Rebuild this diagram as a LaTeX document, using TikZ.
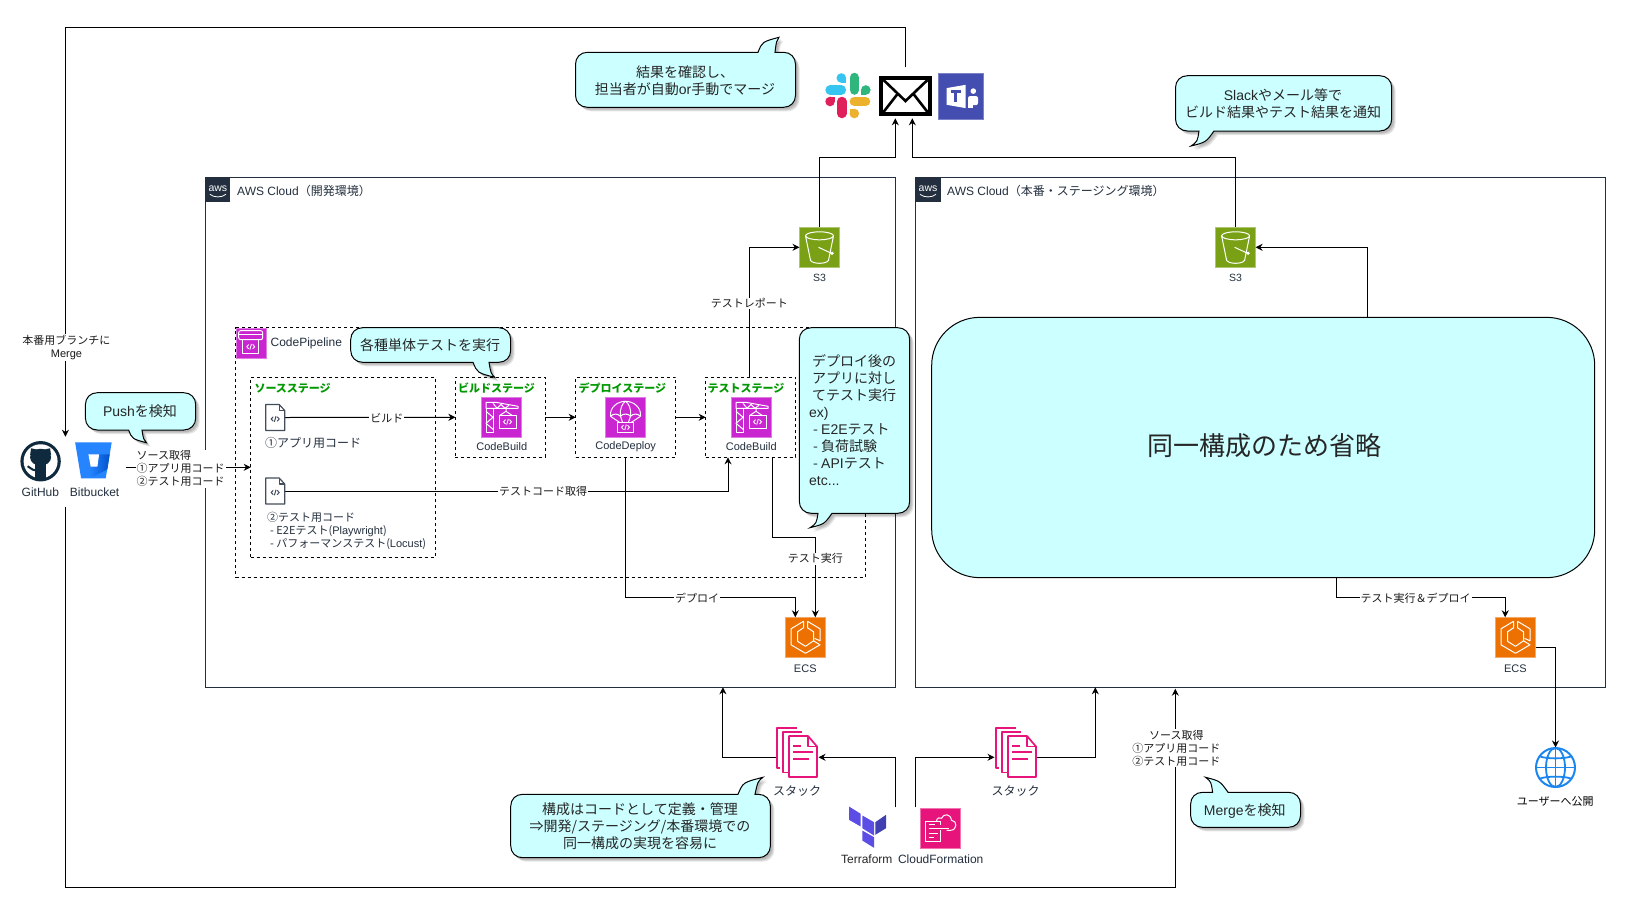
\documentclass[tikz,border=0pt]{standalone}
\usepackage{fontspec}
\setmainfont{Noto Sans CJK JP}
\newfontfamily\lat{Liberation Sans}
\usetikzlibrary{arrows.meta,calc}
\definecolor{callfill}{HTML}{CCFFFF}
\definecolor{awsink}{HTML}{232F3E}
\definecolor{purpleic}{HTML}{C925D1}
\definecolor{greenic}{HTML}{7AA116}
\definecolor{orangeic}{HTML}{ED7100}
\definecolor{pinkic}{HTML}{E7157B}
\definecolor{stagegreen}{HTML}{009900}
\definecolor{ghink}{HTML}{0E2A3C}
\definecolor{globeblue}{HTML}{1A86EE}
\newcommand{\abox}[6]{\node[#6,inner sep=0pt,outer sep=0pt,minimum width={(#4-#2)*1pt},minimum height={(#5-#3)*1pt}] (#1) at ({(#2+#4)/2},{(#3+#5)/2}) {};}
\newcommand{\codeg}[3]{\draw[#3] ({#1-2},{#2-2.2}) -- ({#1-4},{#2}) -- ({#1-2},{#2+2.2}) ({#1+2},{#2-2.2}) -- ({#1+4},{#2}) -- ({#1+2},{#2+2.2}) ({#1+.8},{#2-2.8}) -- ({#1-.8},{#2+2.8});}
% callout with tail on the bottom edge: x1 y1 x2 y2 a b tipx tipy
\newcommand{\callB}[8]{\path[callshape] ({#1+12},#2) -- ({#3-12},#2) .. controls ({#3-5},#2) and (#3,{#2+5}) .. (#3,{#2+12}) -- (#3,{#4-12}) .. controls (#3,{#4-5}) and ({#3-5},#4) .. ({#3-12},#4) -- (#6,#4) .. controls ({#6+(#7-#6)*.35},{#4+(#8-#4)*.75}) .. (#7,#8) .. controls ({#5+(#7-#5)*.2},{#4+(#8-#4)*.7}) .. (#5,#4) -- ({#1+12},#4) .. controls ({#1+5},#4) and (#1,{#4-5}) .. (#1,{#4-12}) -- (#1,{#2+12}) .. controls (#1,{#2+5}) and ({#1+5},#2) .. ({#1+12},#2) -- cycle;}
% callout with tail on the top edge
\newcommand{\callT}[8]{\path[callshape] ({#1+12},#2) -- (#5,#2) .. controls ({#5+(#7-#5)*.2},{#2+(#8-#2)*.7}) .. (#7,#8) .. controls ({#6+(#7-#6)*.35},{#2+(#8-#2)*.75}) .. (#6,#2) -- ({#3-12},#2) .. controls ({#3-5},#2) and (#3,{#2+5}) .. (#3,{#2+12}) -- (#3,{#4-12}) .. controls (#3,{#4-5}) and ({#3-5},#4) .. ({#3-12},#4) -- ({#1+12},#4) .. controls ({#1+5},#4) and (#1,{#4-5}) .. (#1,{#4-12}) -- (#1,{#2+12}) .. controls (#1,{#2+5}) and ({#1+5},#2) .. ({#1+12},#2) -- cycle;}
\definecolor{terralight}{HTML}{5C4EE5}
\definecolor{terradark}{HTML}{4040B2}
\definecolor{slackblue}{HTML}{36C5F0}
\definecolor{slackgreen}{HTML}{2EB67D}
\definecolor{slackyellow}{HTML}{ECB22E}
\definecolor{slackred}{HTML}{E01E5A}
\definecolor{teamsblue}{HTML}{444DB0}
\definecolor{bitblue}{HTML}{2684FF}
\definecolor{bitdark}{HTML}{0052CC}
\tikzset{
  conn/.style={draw=black,line width=1pt,-{Stealth[length=7pt,width=7pt]}},
  dbox/.style={draw=black,line width=1pt,dash pattern=on 3pt off 3pt},
  cloudbox/.style={draw=awsink,line width=1pt,fill=white},
  callshape/.style={draw=black,line width=1pt,fill=callfill,
    preaction={fill=black,opacity=.10,transform canvas={shift={(2pt,-2pt)}}},
    preaction={fill=black,opacity=.10,transform canvas={shift={(3pt,-3pt)}}},
    preaction={fill=black,opacity=.10,transform canvas={shift={(4pt,-4pt)}}}},
  calltext/.style={font=\fontsize{14}{17}\selectfont,align=center,inner sep=0pt,text=black!85},
  lbl/.style={font=\fontsize{11}{13}\selectfont,fill=white,inner sep=1pt,align=center,text=black!90},
  iclbl/.style={font=\lat\fontsize{10.5}{12}\selectfont,text=awsink,inner sep=0pt},
  stagelbl/.style={font=\fontsize{11}{13}\selectfont\bfseries,text=stagegreen,anchor=west,inner sep=0pt},
  srclbl/.style={font=\fontsize{11}{13}\selectfont,text=awsink,anchor=west,inner sep=0pt,align=left},
  iconline/.style={draw=white,line width=1pt,line join=round},
  icawslogo/.pic={
    \node[font=\lat\fontsize{10.5}{10}\selectfont,text=white,inner sep=0pt] (awstxt) at (0,-1.5) {aws};
    \draw[white,line width=.8pt] (-8,4.5) .. controls (-4,8) and (4,8) .. (8,4.5);
  },
  icbuild/.pic={
    \draw[iconline] (-15,-9) rectangle (-8,15);
    \draw[iconline] (-15,-6) -- (-8,0) -- (-15,6) -- (-8,12);
    \draw[iconline] (-15,-15) -- (-15,-9) -- (17,-9) -- (17,-11) -- (-5,-15) -- cycle;
    \draw[iconline] (-8,-14) -- (-4,-9) -- (0,-13) -- (4,-9) -- (8,-12);
    \draw[iconline] (5,-9) -- (5,-6) -- (-1,-2) (5,-6) -- (11,-2);
    \draw[iconline] (-2,-2) rectangle (15,11);
    \codeg{6.5}{4.5}{iconline,line width=.9pt}
  },
  icdeploy/.pic={
    \draw[iconline] (-15,-1) .. controls (-16,-10) and (-8,-16) .. (0,-16) .. controls (8,-16) and (16,-10) .. (15,-1);
    \draw[iconline] (-15,-1) .. controls (-12,-4) and (-8,-4) .. (-5,-1) .. controls (-3,-4) and (3,-4) .. (5,-1) .. controls (8,-4) and (12,-4) .. (15,-1);
    \draw[iconline] (-5,-1) .. controls (-6,-9) and (-3,-14) .. (0,-16) .. controls (3,-14) and (6,-9) .. (5,-1);
    \draw[iconline] (-15,-1) -- (-6,5) (-5,-1) -- (-3,5) (5,-1) -- (3,5) (15,-1) -- (6,5);
    \draw[iconline] (-8,5) rectangle (8,15);
    \codeg{0}{10}{iconline,line width=.9pt}
  },
  icpipe/.pic={
    \draw[iconline,rounded corners=2pt] (-12,-12) rectangle (12,-3);
    \draw[iconline] (-12,-8) -- (12,-8);
    \draw[iconline] (-8,-3) rectangle (8,11);
    \codeg{0}{4}{iconline,line width=.9pt}
  },
  ics3/.pic={
    \draw[iconline] (0,-11.5) ellipse [x radius=14pt,y radius=4pt];
    \draw[iconline] (-14,-11.5) -- (-9,13) .. controls (-7,17) and (7,17) .. (9,13) -- (14,-11.5);
    \draw[iconline] (-1,0) -- (12,6);
    \fill[white] (12.5,6) circle [radius=1.8pt];
  },
  icecs/.pic={
    \draw[iconline] (-2,-16) -- (-14.5,-8.5) -- (-14.5,7.5) -- (0,16) -- (14.5,7.5) -- (8,3.5);
    \draw[iconline] (2,-16) -- (14.5,-8.5) -- (14.5,3.5) -- (9,1);
    \draw[iconline] (-2,-16) -- (-2,-9.5) -- (-8,-5.5) -- (-8,4) -- (0,9) -- (8,3.5) -- (8,-5.5) -- (2,-9.5) -- (2,-16);
  },
  iccf/.pic={
    \draw[iconline] (-4,-7) .. controls (-4,-11) and (0,-11) .. (1,-10) .. controls (3,-15) and (10,-15) .. (11,-8) .. controls (17,-8) and (17,2) .. (10,2) -- (6,2);
    \draw[iconline] (0,2) -- (0,13) -- (-15,13) -- (-15,-7) -- (0,-7) -- (0,-3);
    \draw[iconline] (-12,-4) -- (-6,-4) (-12,0) -- (8,0) (-12,5) -- (-3,5) (-12,9) -- (-7,9);
  },
  icstack/.pic={
    \draw[draw=pinkic,line width=1.7pt,line join=round] (0,-24) -- (-20,-24) -- (-20,16) -- (-17,16);
    \draw[draw=pinkic,line width=1.7pt,line join=round] (5,-20) -- (-14,-20) -- (-14,20.5) -- (-9,20.5);
    \draw[draw=pinkic,line width=1.7pt,line join=round] (-8,-16) -- (11,-16) -- (20,-5.5) -- (20,25) -- (-8,25) -- cycle;
    \draw[draw=pinkic,line width=1.7pt,line join=round] (11,-16) -- (11,-5.5) -- (20,-5.5);
    \draw[draw=pinkic,line width=1.7pt] (-4,-6) -- (4,-6) (-4,0) -- (16,0) (-4,7) -- (12,7);
  },
  icfile/.pic={
    \draw[draw=awsink!85,fill=white,line width=1.2pt,line join=round] (-9.5,-13) -- (4,-13) -- (9.5,-7) -- (9.5,13) -- (-9.5,13) -- cycle;
    \draw[draw=awsink!85,line width=1.2pt,line join=round] (4,-13) -- (4,-7) -- (9.5,-7);
    \codeg{0}{1.5}{draw=awsink!85,line width=1pt}
  },
  icterra/.pic={
    \fill[terralight] (-18.5,-20) -- (-6.8,-12.7) -- (-6.8,0) -- (-18.5,-6.7) -- cycle;
    \fill[terralight] (-5.2,-11) -- (6.5,-4.3) -- (6.5,9) -- (-5.2,1.7) -- cycle;
    \fill[terradark] (7.8,-4.3) -- (18.5,-11.7) -- (18.5,1.7) -- (7.8,8.3) -- cycle;
    \fill[terralight] (-5.2,4) -- (6.5,10.7) -- (6.5,21.3) -- (-5.2,14) -- cycle;
  },
  icmail/.pic={
    \draw[black,line width=2.6pt,line join=miter] (-22,-16) -- (0,5) -- (22,-16);
    \draw[black,line width=2.6pt] (-22,16) -- (-8,-2) (22,16) -- (8,-2);
  },
  icslack/.pic={
    \draw[line width=9.5pt,line cap=round,slackblue] (-17.7,-5.5) -- (-6.5,-5.5);
    \fill[slackblue] (-6.5,-17.5) circle [radius=4.8pt];
    \fill[slackblue] (-6.5,-17.5) rectangle (-1.7,-12.7);
    \draw[line width=9.5pt,line cap=round,slackgreen] (6.5,-18) -- (6.5,-5.5);
    \fill[slackgreen] (18,-5.5) circle [radius=4.8pt];
    \fill[slackgreen] (13.2,-5.5) rectangle (18,-.7);
    \draw[line width=9.5pt,line cap=round,slackyellow] (6.5,6) -- (17.7,6);
    \fill[slackyellow] (6.5,18) circle [radius=4.8pt];
    \fill[slackyellow] (1.7,13.2) rectangle (6.5,18);
    \draw[line width=9.5pt,line cap=round,slackred] (-6,6) -- (-6,18);
    \fill[slackred] (-17.7,6) circle [radius=4.8pt];
    \fill[slackred] (-17.7,1.2) rectangle (-12.9,6);
  },
  icteams/.pic={
    \fill[white] (-14.3,-8) -- (4.7,-11.3) -- (4.7,12) -- (-14.3,8.7) -- cycle;
    \draw[teamsblue,line width=2.6pt] (-10.5,-4.5) -- (-.5,-4.5) (-5.5,-4.5) -- (-5.5,6);
    \fill[white] (12.3,-5) circle [radius=2.8pt];
    \fill[white,rounded corners=2pt] (7,0) rectangle (17,9);
    \fill[white] (7,3) rectangle (12,11.5);
  },
  icgithub/.pic={
    \fill[ghink] (0,0) circle [radius=20.2pt];
    \fill[white] (0,0) circle [radius=17pt];
    \begin{scope}
      \clip (0,0) circle [radius=18pt];
      \fill[ghink] (0,-4) ellipse [x radius=10.5pt,y radius=8.5pt];
      \fill[ghink] (-10.5,-6) -- (-9.5,-13) -- (-3,-11.5) -- cycle;
      \fill[ghink] (10.5,-6) -- (9.5,-13) -- (3,-11.5) -- cycle;
      \fill[ghink] (-5.5,2) rectangle (5.5,20);
      \draw[ghink,line width=2pt] (-5,9) .. controls (-9,9) and (-10,6) .. (-13,5);
    \end{scope}
  },
  icbit/.pic={
    \fill[bitblue] (-18.3,-18) -- (18.3,-18) -- (12.3,18) -- (-12.3,18) -- cycle;
    \shade[left color=bitblue,right color=bitdark] (-4,6.3) -- (4,6.3) -- (5.7,-6) -- (16.3,-6) -- (14,9) -- (-2,17) -- cycle;
    \fill[white] (-5,-6) -- (5.7,-6) -- (4,6.3) -- (-2.7,6.3) -- cycle;
  },
  icglobe/.pic={
    \draw[globeblue,line width=2pt] (0,0) circle [radius=19.5pt];
    \draw[globeblue,line width=1.8pt] (0,0) ellipse [x radius=9.5pt,y radius=19.5pt];
    \draw[globeblue,line width=1.8pt] (0,-19.5) -- (0,19.5) (-19.5,0) -- (19.5,0);
    \draw[globeblue,line width=1.8pt] (-15.5,-11) .. controls (-8,-8.5) and (8,-8.5) .. (15.5,-11);
    \draw[globeblue,line width=1.8pt] (-15.5,11) .. controls (-8,8.5) and (8,8.5) .. (15.5,11);
  },
}
\begin{document}
\begin{tikzpicture}[x=1pt,y=-1pt]
\useasboundingbox (0,0) rectangle (1626,916);
\fill[white] (0,0) rectangle (1626,916);

% clouds and pipeline
\abox{cloudA}{205.4}{177.3}{895.5}{687.3}{cloudbox}
\abox{cloudB}{915.5}{177.3}{1605.4}{687.3}{cloudbox}
\abox{logoA}{205.4}{177.3}{230.4}{202.3}{fill=awsink}
\abox{logoB}{915.5}{177.3}{940.5}{202.3}{fill=awsink}
\pic at (logoA) {icawslogo};
\pic at (logoB) {icawslogo};
\node[anchor=west,inner sep=0pt,text=awsink,font=\fontsize{12}{14}\selectfont] (titleA) at (237,190.5) {{\lat AWS Cloud}（開発環境）};
\node[anchor=west,inner sep=0pt,text=awsink,font=\fontsize{12}{14}\selectfont] (titleB) at (947,190.5) {{\lat AWS Cloud}（本番・ステージング環境）};
\abox{pipe}{235.7}{327.7}{865.3}{577.3}{dbox}
\abox{pipeic}{235.7}{327.7}{265.7}{357.7}{fill=purpleic,draw=purpleic!60!white}
\pic at (pipeic) {icpipe};
\node[anchor=west,inner sep=0pt,text=awsink,font=\lat\fontsize{12}{14}\selectfont] (pipelbl) at (270.4,343.7) {CodePipeline};

% stages
\abox{srcstage}{250.7}{377.3}{435.4}{557.3}{dbox}
\abox{buildstage}{455.4}{377.3}{545.4}{457.3}{dbox}
\abox{deploystage}{575.7}{377.3}{675.7}{457.3}{dbox}
\abox{teststage}{705.7}{377.3}{795.7}{457.3}{dbox}
\node[stagelbl] (srct) at (254.3,388) {ソースステージ};
\node[stagelbl] (buildt) at (458,388) {ビルドステージ};
\node[stagelbl] (deployt) at (578.5,388) {デプロイステージ};
\node[stagelbl] (testt) at (707.5,388) {テストステージ};

% big box
\node[draw=black,line width=1pt,fill=callfill,rounded corners=48pt,minimum width=663pt,minimum height=260.3pt,inner sep=0pt,outer sep=0pt] (big) at (1263.2,447.5) {};
\node[inner sep=0pt,font=\fontsize{26}{30}\selectfont,text=black!85] (bigtext) at (1264,445.3) {同一構成のため省略};

% icon squares
\abox{buildic}{481}{397.3}{521}{437.3}{fill=purpleic,draw=purpleic!60!white}
\abox{deployic}{605.5}{397.3}{645.5}{437.3}{fill=purpleic,draw=purpleic!60!white}
\abox{testic}{731}{397.3}{771}{437.3}{fill=purpleic,draw=purpleic!60!white}
\abox{s3a}{799.5}{227.3}{839.5}{267.3}{fill=greenic,draw=greenic!60!white}
\abox{s3b}{1215.6}{227.3}{1255.6}{267.3}{fill=greenic,draw=greenic!60!white}
\abox{ecsa}{785.5}{617.3}{825.5}{657.3}{fill=orangeic,draw=orangeic!60!white}
\abox{ecsb}{1495.5}{617.3}{1535.5}{657.3}{fill=orangeic,draw=orangeic!60!white}
\abox{cf}{920.5}{808.3}{960.5}{848.3}{fill=pinkic,draw=pinkic!60!white}
\abox{stacka}{776.5}{727.3}{817.5}{787.3}{}
\abox{stackb}{995.5}{727.3}{1036.5}{787.3}{}
\abox{terra}{849}{806.5}{886}{846.5}{}
\abox{file1}{265.7}{404.3}{284.7}{430.7}{}
\abox{file2}{265.7}{478}{284.7}{504}{}
\abox{slack}{825}{72.7}{870.6}{118.3}{}
\abox{mail}{881}{78}{930}{114}{draw=black,line width=4pt,fill=white}
\abox{teams}{938.5}{73.5}{983.5}{118.7}{fill=teamsblue,draw=teamsblue!70!white}
\abox{github}{20.5}{441}{60.7}{481.5}{}
\abox{bitb}{75}{442.3}{111.8}{478.3}{}
\abox{globe}{1535.5}{747.5}{1575.5}{787.5}{}

% free ends
\coordinate (mailtop) at (905.5,67.3);
\coordinate (ghtop) at (65.4,436.7);
\coordinate (ghbot) at (65.4,507);
\coordinate (cloudBsrc) at (1175.3,688.7);
\coordinate (bbout) at (125.7,467.3);
\coordinate (testin) at (728,457.3);
\coordinate (ecsa1) at (795.3,617.3);
\coordinate (ecsa2) at (815.3,617.3);
\coordinate (testout) at (772.7,457.3);
\coordinate (testtop) at (749.4,377.3);
\coordinate (mailL) at (895.3,118.3);
\coordinate (mailR) at (912.3,118.3);
\coordinate (bigtop) at (1367,317.3);
\coordinate (bigbot) at (1336,577.6);
\coordinate (ecsb1) at (1505.2,617.3);
\coordinate (ecsbout) at (1535.5,647.3);
\coordinate (tfup) at (895.7,807.3);
\coordinate (cfup) at (915.4,807.3);
\coordinate (cloudAin) at (722.9,687.3);
\coordinate (cloudBin) at (1095.3,687.3);
\coordinate (stackaE) at (818.5,757.3);
\coordinate (stackbW) at (994.5,757.3);

% connectors
\draw[conn] (mailtop) -- ++(0,-40) -| (ghtop);
\draw[conn] (ghbot) -- ++(0,380.3) -| (cloudBsrc);
\draw[conn] (bbout) -- (srcstage.west);
\draw[conn] (file1.east) -- (buildstage.west);
\draw[conn] (buildstage.east) -- (deploystage.west);
\draw[conn] (deploystage.east) -- (teststage.west);
\draw[conn] (file2.east) -| (testin);
\draw[conn] (deploystage.south) -- ++(0,140) -| (ecsa1);
\draw[conn] (testout) -- ++(0,80) -| (ecsa2);
\draw[conn] (testtop) |- (s3a.west);
\draw[conn] (s3a.north) -- ++(0,-70) -| (mailL);
\draw[conn] (s3b.north) -- ++(0,-70) -| (mailR);
\draw[conn] (bigtop) |- (s3b.east);
\draw[conn] (bigbot) -- ++(0,19.7) -| (ecsb1);
\draw[conn] (ecsbout) -| (globe.north);
\draw[conn] (tfup) |- (stackaE);
\draw[conn] (cfup) |- (stackbW);
\draw[conn] (stacka.west) -| (cloudAin);
\draw[conn] (stackb.east) -| (cloudBin);

% connector labels
\node[lbl] (lmerge) at (66.5,347.5) {本番用ブランチに\\{\lat Merge}};
\node[lbl,anchor=west,align=left] (lsrc) at (135.5,468.7) {ソース取得\\①アプリ用コード\\②テスト用コード};
\node[lbl] (lbuild) at (386.8,418.3) {ビルド};
\node[lbl] (ltestcode) at (543,491) {テストコード取得};
\node[lbl] (ldeploy) at (697,598.3) {デプロイ};
\node[lbl] (ltestrun) at (815.3,558.7) {テスト実行};
\node[lbl] (lreport) at (749.4,303.5) {テストレポート};
\node[lbl] (ltestdep) at (1415.6,598.5) {テスト実行＆デプロイ};
\node[lbl] (lsrc2) at (1176.4,748) {ソース取得\\①アプリ用コード\\②テスト用コード};

% icon glyphs
\pic at (buildic) {icbuild};
\pic at (deployic) {icdeploy};
\pic at (testic) {icbuild};
\pic at (s3a) {ics3};
\pic at (s3b) {ics3};
\pic at (ecsa) {icecs};
\pic at (ecsb) {icecs};
\pic at (cf) {iccf};
\pic at ($(stacka)+(0,-5.3)$) {icstack};
\pic at ($(stackb)+(0,-5.3)$) {icstack};
\pic at (terra) {icterra};
\pic at (file1) {icfile};
\pic at (file2) {icfile};
\pic at (slack) {icslack};
\pic at (mail) {icmail};
\pic at (teams) {icteams};
\pic at (github) {icgithub};
\pic at (bitb) {icbit};
\pic at (globe) {icglobe};

% icon labels
\node[iclbl,font=\lat\fontsize{12}{14}\selectfont] (lgithub) at (40.4,492.7) {GitHub};
\node[iclbl,font=\lat\fontsize{12}{14}\selectfont] (lbit) at (94.6,492.7) {Bitbucket};
\node[iclbl,font=\lat\fontsize{11}{13}\selectfont] (lbuildic) at (501.8,447) {CodeBuild};
\node[iclbl,font=\lat\fontsize{11}{13}\selectfont] (ldeployic) at (625.7,447) {CodeDeploy};
\node[iclbl,font=\lat\fontsize{11}{13}\selectfont] (ltestic) at (751.3,447) {CodeBuild};
\node[iclbl] (ls3a) at (819.5,278.3) {S3};
\node[iclbl] (ls3b) at (1235.6,278.3) {S3};
\node[iclbl,font=\lat\fontsize{11}{13}\selectfont] (lecsa) at (805.3,669) {ECS};
\node[iclbl,font=\lat\fontsize{11}{13}\selectfont] (lecsb) at (1515.3,669) {ECS};
\node[iclbl,font=\lat\fontsize{12}{14}\selectfont,text=black!85] (lterra) at (866.8,859.3) {Terraform};
\node[iclbl,font=\lat\fontsize{12}{14}\selectfont] (lcf) at (940.7,859.3) {CloudFormation};
\node[iclbl,font=\fontsize{12}{14}\selectfont] (lstacka) at (797,790.7) {スタック};
\node[iclbl,font=\fontsize{12}{14}\selectfont] (lstackb) at (1015.5,790.7) {スタック};
\node[iclbl,font=\fontsize{11}{13}\selectfont,text=black] (lglobe) at (1555.3,801) {ユーザーへ公開};
\node[srclbl,font=\fontsize{12}{14}\selectfont] (lfile1) at (265,442.7) {①アプリ用コード};
\node[srclbl] (lfile2) at (267,531) {②テスト用コード\\\hspace{3pt}- E2Eテスト({\lat\fontsize{11}{13}\selectfont Playwright})\\\hspace{3pt}- パフォーマンステスト({\lat\fontsize{11}{13}\selectfont Locust})};

% callouts
\callT{575.5}{52.3}{795.5}{107.3}{758}{775}{779}{37.3}
\node[calltext] (ctop) at (685,80.5) {結果を確認し、\\担当者が自動{\lat or}手動でマージ};
\callB{1175.5}{75.7}{1391.7}{131}{1199}{1214}{1191}{146}
\node[calltext] (cslack) at (1283,103.5) {{\lat Slack}やメール等で\\ビルド結果やテスト結果を通知};
\callB{350.7}{327.7}{510.7}{362.3}{473}{489}{494.6}{377.3}
\node[calltext] (cunit) at (430,345) {各種単体テストを実行};
\callB{85.4}{392.7}{195.7}{430}{128.6}{142}{146.4}{442.7}
\node[calltext] (cpush) at (140,411) {{\lat Push}を検知};
\callB{799.3}{327.7}{909.7}{513.3}{818}{832}{810}{527.7}
\node[calltext,anchor=west,align=left] (cnote) at (809,420) {\hspace{3pt}デプロイ後の\\\hspace{3pt}アプリに対し\\\hspace{3pt}てテスト実行\\{\lat ex)}\\\hspace{4pt}- {\lat E2E}テスト\\\hspace{4pt}- 負荷試験\\\hspace{4pt}- {\lat API}テスト\\{\lat etc...}};
\callT{510.7}{794.3}{770.4}{857.7}{738}{755}{762.9}{777.3}
\node[calltext] (cstack) at (640,826) {構成はコードとして定義・管理\\⇒開発/ステージング/本番環境での\\同一構成の実現を容易に};
\callT{1190.6}{792.3}{1300.5}{827.3}{1212.6}{1228}{1205.5}{777.3}
\node[calltext] (cmerge) at (1244.8,811) {{\lat Merge}を検知};
\end{tikzpicture}
\end{document}
